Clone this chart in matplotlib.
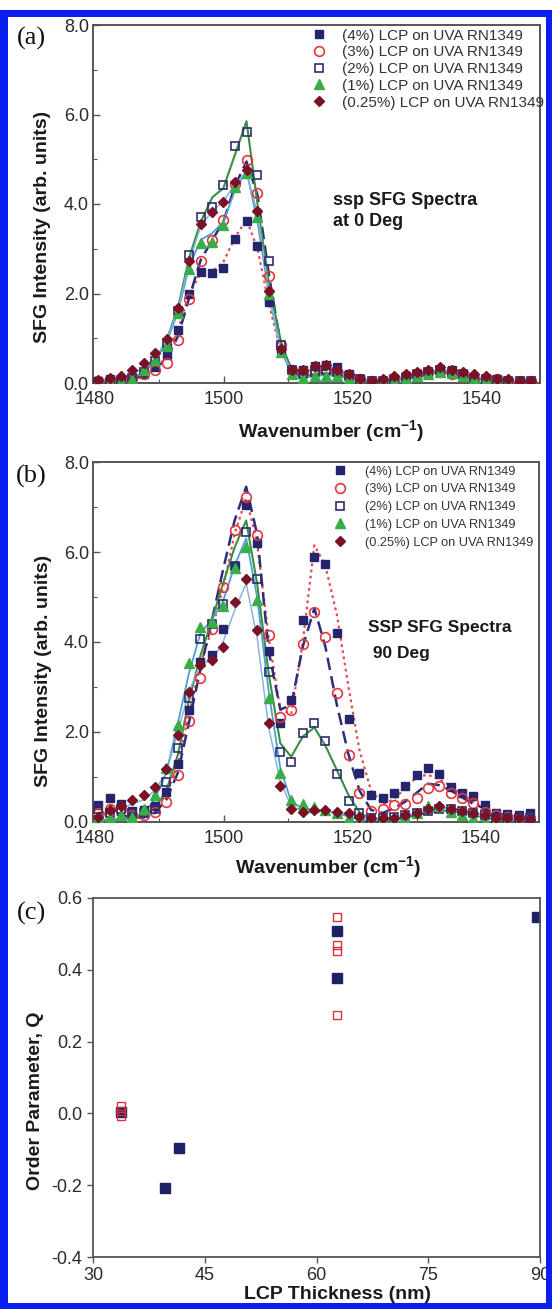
import numpy as np
import matplotlib
matplotlib.use('Agg')
from matplotlib import pyplot as plt
from matplotlib.patches import Rectangle
from matplotlib.ticker import MultipleLocator, FormatStrFormatter

plt.rcParams['font.family'] = ['Liberation Sans', 'DejaVu Sans']
plt.rcParams['axes.unicode_minus'] = False

# wavenumber grid (cm-1), shared by panels (a) and (b)
wn = [1480.5, 1482.3, 1484.0, 1485.8, 1487.6, 1489.3, 1491.1, 1492.9, 1494.6, 1496.4,
      1498.2, 1499.9, 1501.7, 1503.5, 1505.2, 1507.0, 1508.8, 1510.5, 1512.3, 1514.1,
      1515.8, 1517.6, 1519.4, 1521.1, 1522.9, 1524.7, 1526.4, 1528.2, 1530.0, 1531.7,
      1533.5, 1535.3, 1537.0, 1538.8, 1540.6, 1542.3, 1544.1, 1545.9, 1547.6]

labels = ['(4%) LCP on UVA RN1349', '(3%) LCP on UVA RN1349', '(2%) LCP on UVA RN1349',
          '(1%) LCP on UVA RN1349', '(0.25%) LCP on UVA RN1349']

# panel (a): ssp, 0 deg
a_4 = [0.05, 0.08, 0.05, 0.12, 0.2, 0.35, 0.63, 1.18, 2.0, 2.49, 2.46, 2.58, 3.21, 3.62, 3.07, 1.82, 0.74, 0.3, 0.28, 0.38,
       0.4, 0.35, 0.2, 0.1, 0.05, 0.05, 0.1, 0.15, 0.2, 0.25, 0.3, 0.28, 0.2, 0.12, 0.1, 0.08, 0.05, 0.05, 0.05]
a_3 = [0.05, 0.05, 0.08, 0.1, 0.2, 0.28, 0.45, 0.97, 1.88, 2.72, 3.2, 3.65, 4.45, 4.98, 4.24, 2.4, 0.86, 0.3, 0.25, 0.3,
       0.3, 0.25, 0.15, 0.08, 0.05, 0.05, 0.1, 0.15, 0.2, 0.25, 0.25, 0.2, 0.15, 0.1, 0.1, 0.08, 0.05, 0.05, 0.05]
a_2 = [0.03, 0.03, 0.05, 0.12, 0.25, 0.5, 0.9, 1.6, 2.85, 3.72, 3.93, 4.42, 5.3, 5.6, 4.65, 2.72, 0.85, 0.3, 0.2, 0.25,
       0.28, 0.25, 0.15, 0.08, 0.05, 0.05, 0.08, 0.12, 0.2, 0.25, 0.3, 0.25, 0.2, 0.12, 0.08, 0.06, 0.05, 0.05, 0.05]
a_1 = [0.02, 0.02, 0.05, 0.1, 0.3, 0.52, 0.82, 1.56, 2.54, 3.12, 3.15, 3.53, 4.37, 4.7, 3.72, 2.0, 0.7, 0.2, 0.12, 0.15,
       0.15, 0.15, 0.08, 0.03, 0.02, 0.02, 0.05, 0.1, 0.15, 0.2, 0.25, 0.22, 0.15, 0.1, 0.06, 0.04, 0.03, 0.02, 0.02]
a_025 = [0.07, 0.12, 0.15, 0.3, 0.45, 0.66, 0.98, 1.67, 2.73, 3.55, 3.83, 4.05, 4.5, 4.75, 3.85, 2.05, 0.75, 0.3, 0.28, 0.38,
         0.4, 0.3, 0.2, 0.1, 0.05, 0.1, 0.15, 0.2, 0.25, 0.3, 0.35, 0.3, 0.25, 0.2, 0.15, 0.1, 0.08, 0.05, 0.05]
# fitted curves (a)
af_4 = [0.05, 0.05, 0.05, 0.1, 0.15, 0.3, 0.6, 1.2, 2.0, 2.45, 2.5, 2.7, 3.25, 3.65, 3.0, 1.75, 0.72, 0.3, 0.25, 0.3,
        0.35, 0.32, 0.2, 0.1, 0.05, 0.05, 0.08, 0.12, 0.18, 0.22, 0.25, 0.22, 0.15, 0.1, 0.08, 0.05, 0.05, 0.05, 0.05]
af_3 = [0.05, 0.05, 0.05, 0.1, 0.15, 0.3, 0.55, 1.05, 1.9, 2.75, 3.2, 3.6, 4.4, 4.95, 4.2, 2.4, 0.85, 0.3, 0.25, 0.28,
        0.3, 0.28, 0.18, 0.1, 0.05, 0.05, 0.08, 0.12, 0.18, 0.22, 0.25, 0.22, 0.15, 0.1, 0.08, 0.05, 0.05, 0.05, 0.05]
af_2 = [0.02, 0.02, 0.05, 0.1, 0.25, 0.5, 0.95, 1.7, 2.8, 3.6, 4.15, 4.35, 5.1, 5.85, 4.0, 2.2, 0.95, 0.25, 0.15, 0.2,
        0.22, 0.2, 0.12, 0.05, 0.02, 0.02, 0.05, 0.1, 0.15, 0.2, 0.25, 0.22, 0.15, 0.1, 0.06, 0.04, 0.03, 0.03, 0.03]
af_1 = [0.02, 0.02, 0.05, 0.1, 0.25, 0.5, 0.9, 1.6, 2.6, 3.2, 3.35, 3.6, 4.3, 4.75, 3.6, 1.95, 0.75, 0.2, 0.12, 0.15,
        0.18, 0.15, 0.1, 0.05, 0.02, 0.02, 0.05, 0.1, 0.15, 0.22, 0.28, 0.25, 0.18, 0.12, 0.08, 0.05, 0.04, 0.03, 0.03]
af_025 = [0.05, 0.08, 0.12, 0.2, 0.35, 0.55, 0.95, 1.65, 2.7, 3.5, 3.85, 4.05, 4.45, 4.7, 3.8, 2.0, 0.75, 0.28, 0.25, 0.32,
          0.35, 0.3, 0.18, 0.1, 0.05, 0.06, 0.1, 0.15, 0.2, 0.25, 0.3, 0.27, 0.2, 0.15, 0.1, 0.08, 0.06, 0.05, 0.05]

# panel (b): ssp, 90 deg
b_4 = [0.38, 0.53, 0.41, 0.25, 0.26, 0.35, 0.67, 1.3, 2.5, 3.55, 3.72, 4.3, 5.7, 7.05, 6.19, 3.8, 2.21, 2.71, 4.5, 5.88,
       5.73, 4.2, 2.3, 1.1, 0.6, 0.53, 0.64, 0.79, 1.04, 1.21, 1.06, 0.77, 0.65, 0.58, 0.38, 0.19, 0.18, 0.15, 0.2]
b_3 = [0.19, 0.3, 0.28, 0.15, 0.15, 0.23, 0.45, 1.05, 2.25, 3.2, 4.3, 5.23, 6.49, 7.23, 6.38, 4.16, 2.34, 2.49, 3.96, 4.67,
       4.12, 2.86, 1.49, 0.64, 0.25, 0.3, 0.38, 0.4, 0.53, 0.75, 0.79, 0.64, 0.53, 0.43, 0.23, 0.16, 0.12, 0.1, 0.08]
b_2 = [0.3, 0.2, 0.3, 0.2, 0.2, 0.3, 0.9, 1.65, 2.75, 4.06, 4.4, 4.85, 5.7, 6.44, 5.41, 3.34, 1.56, 1.34, 1.97, 2.2,
       1.79, 1.07, 0.47, 0.19, 0.1, 0.1, 0.12, 0.15, 0.2, 0.25, 0.3, 0.3, 0.25, 0.2, 0.15, 0.1, 0.1, 0.08, 0.1]
b_1 = [0.12, 0.1, 0.15, 0.12, 0.3, 0.6, 1.2, 2.16, 3.54, 4.34, 4.45, 4.8, 5.65, 6.12, 4.93, 2.75, 1.08, 0.49, 0.4, 0.34,
       0.27, 0.19, 0.08, 0.02, 0.03, 0.06, 0.1, 0.12, 0.19, 0.36, 0.36, 0.23, 0.15, 0.1, 0.05, 0.03, 0.02, 0.02, 0.02]
b_025 = [0.12, 0.27, 0.36, 0.49, 0.61, 0.77, 1.17, 1.93, 2.9, 3.5, 3.6, 3.9, 4.9, 5.39, 4.27, 2.21, 0.8, 0.3, 0.23, 0.27,
         0.27, 0.23, 0.19, 0.12, 0.1, 0.08, 0.1, 0.15, 0.2, 0.3, 0.35, 0.3, 0.25, 0.2, 0.15, 0.1, 0.1, 0.08, 0.05]
# fitted curves (b)
bf_4 = [0.15, 0.15, 0.15, 0.15, 0.2, 0.3, 0.6, 1.3, 2.4, 3.5, 4.3, 5.2, 6.4, 7.2, 6.2, 4.1, 2.5, 2.4, 4.0, 6.15,
        5.7, 4.6, 3.0, 1.6, 0.7, 0.4, 0.5, 0.75, 1.0, 1.05, 0.95, 0.8, 0.6, 0.45, 0.3, 0.2, 0.15, 0.12, 0.1]
bf_3 = [0.2, 0.2, 0.15, 0.1, 0.1, 0.2, 0.5, 1.1, 2.2, 3.4, 4.5, 5.6, 6.7, 7.45, 6.4, 3.8, 2.5, 2.6, 3.9, 4.75,
        3.9, 2.6, 1.5, 0.7, 0.27, 0.2, 0.3, 0.45, 0.65, 0.85, 0.82, 0.7, 0.55, 0.4, 0.3, 0.2, 0.15, 0.12, 0.1]
bf_2 = [0.05, 0.05, 0.05, 0.08, 0.15, 0.3, 0.7, 1.5, 2.7, 3.7, 4.5, 5.3, 6.1, 6.7, 5.3, 3.3, 1.75, 1.45, 1.9, 2.1,
        1.7, 1.15, 0.6, 0.22, 0.05, 0.02, 0.05, 0.1, 0.15, 0.2, 0.25, 0.25, 0.2, 0.15, 0.1, 0.05, 0.05, 0.05, 0.05]
bf_1 = [0.05, 0.05, 0.08, 0.1, 0.2, 0.5, 1.1, 2.2, 3.3, 4.2, 4.5, 4.9, 5.7, 6.3, 5.0, 2.9, 1.2, 0.45, 0.3, 0.28,
        0.25, 0.2, 0.12, 0.05, 0.03, 0.03, 0.05, 0.1, 0.2, 0.3, 0.33, 0.3, 0.25, 0.2, 0.12, 0.08, 0.05, 0.03, 0.03]
bf_025 = [0.15, 0.25, 0.3, 0.4, 0.5, 0.7, 1.1, 2.0, 2.9, 3.5, 3.6, 4.0, 4.7, 5.3, 4.1, 2.1, 0.9, 0.35, 0.25, 0.25,
          0.25, 0.22, 0.18, 0.12, 0.1, 0.08, 0.1, 0.15, 0.2, 0.28, 0.32, 0.28, 0.22, 0.18, 0.12, 0.1, 0.08, 0.06, 0.05]

# panel (c): order parameter vs thickness
c_thick_fill = [33.7, 39.7, 41.6, 62.7, 62.7, 89.6]
c_q_fill = [0.005, -0.207, -0.096, 0.508, 0.376, 0.548]
c_thick_open = [33.7, 33.7, 33.7, 62.7, 62.7, 62.7, 62.7]
c_q_open = [0.022, 0.008, -0.008, 0.547, 0.468, 0.452, 0.275]

navy = '#25256e'
red = '#e0383e'
green = '#38ad48'
wine = '#7a1226'
marker_styles = [
    dict(marker='s', ms=6.2, mfc=navy, mec=navy, mew=1.0),
    dict(marker='o', ms=7.0, mfc='none', mec=red, mew=1.2),
    dict(marker='s', ms=5.6, mfc='none', mec='#2c2e6e', mew=1.2),
    dict(marker='^', ms=7.2, mfc=green, mec=green, mew=1.0),
    dict(marker='D', ms=5.6, mfc=wine, mec=wine, mew=1.0),
]
fit_styles = [
    dict(color='#e8464f', ls=(0, (1.2, 1.6)), lw=1.6),
    dict(color='#2b2f7a', ls=(0, (5, 2.5)), lw=1.8),
    dict(color='#3b8d42', ls='-', lw=1.5),
    dict(color='#4d9fd0', ls='-', lw=1.3),
    dict(color='#86b4dc', ls='-', lw=1.1),
]

W, H = 552, 1309
fig = plt.figure(figsize=(W / 100, H / 100), dpi=100)

def px_axes(l, t, r, b):
    return fig.add_axes([l / W, 1 - b / H, (r - l) / W, (b - t) / H])

tick_color = '#2a2a2a'
spine_color = '#555555'

def style_spectrum(ax):
    ax.set_xlim(1479.7, 1549.0)
    ax.set_ylim(0, 8.0)
    ax.xaxis.set_major_locator(MultipleLocator(20))
    ax.xaxis.set_minor_locator(MultipleLocator(10))
    ax.yaxis.set_major_locator(MultipleLocator(2))
    ax.yaxis.set_minor_locator(MultipleLocator(1))
    ax.yaxis.set_major_formatter(FormatStrFormatter('%.1f'))
    ax.tick_params(which='both', direction='in', colors=spine_color, labelcolor=tick_color, labelsize=13)
    ax.tick_params(which='major', length=5, width=1.0, pad=3)
    ax.tick_params(axis='x', which='major', pad=6)
    ax.tick_params(which='minor', length=3, width=0.8)
    for s in ax.spines.values():
        s.set_color(spine_color)
        s.set_linewidth(1.4)
    ax.set_ylabel('SFG Intensity (arb. units)', fontsize=14, fontweight='bold', color='#1a1a1a')
    ax.set_xlabel('Wavenumber (cm$^{\\mathregular{-1}}$)', fontsize=14, fontweight='bold', color='#1a1a1a')

def draw_spectrum(ax, data, fits, leg_fs, leg_anchor, leg_spacing, leg_pad):
    for f, st in zip(fits, fit_styles):
        ax.plot(wn, f, **st, zorder=2)
    handles = []
    for d, ms, lab in zip(data, marker_styles, labels):
        h, = ax.plot(wn, d, ls='none', label=lab, zorder=3, **ms)
        handles.append(h)
    ax.legend(handles=handles, loc='upper left', bbox_to_anchor=leg_anchor, frameon=False,
              fontsize=leg_fs, borderpad=0, borderaxespad=0, handlelength=1.0,
              handletextpad=leg_pad, labelspacing=leg_spacing, labelcolor='#333333')

# panel (a)
ax_a = px_axes(93, 25, 540, 383)
draw_spectrum(ax_a, [a_4, a_3, a_2, a_1, a_025], [af_4, af_3, af_2, af_1, af_025],
              11, (0.488, 0.99), 0.18, 1.05)
style_spectrum(ax_a)
ax_a.yaxis.set_label_coords(-0.094, 0.436)
ax_a.xaxis.set_label_coords(0.532, -0.1)
ax_a.text(0.537, 0.511, 'ssp SFG Spectra', transform=ax_a.transAxes, fontsize=13,
          fontweight='bold', va='center', ha='left', color='#1a1a1a')
ax_a.text(0.537, 0.45, 'at 0 Deg', transform=ax_a.transAxes, fontsize=13,
          fontweight='bold', va='center', ha='left', color='#1a1a1a')

# panel (b)
ax_b = px_axes(93, 462, 539, 822)
draw_spectrum(ax_b, [b_4, b_3, b_2, b_1, b_025], [bf_4, bf_3, bf_2, bf_1, bf_025],
              9.2, (0.539, 0.99), 0.45, 1.5)
style_spectrum(ax_b)
ax_b.yaxis.set_label_coords(-0.092, 0.42)
ax_b.xaxis.set_label_coords(0.528, -0.09)
ax_b.text(0.617, 0.539, 'SSP SFG Spectra', transform=ax_b.transAxes, fontsize=12.5,
          fontweight='bold', va='center', ha='left', color='#1a1a1a')
ax_b.text(0.617, 0.469, ' 90 Deg', transform=ax_b.transAxes, fontsize=12.5,
          fontweight='bold', va='center', ha='left', color='#1a1a1a')

# panel (c)
ax_c = px_axes(93, 898, 540, 1257)
ax_c.plot(c_thick_open, c_q_open, ls='none', marker='s', ms=5.6, mfc='none', mec='#d8323c', mew=1.0, zorder=3)
ax_c.plot(c_thick_fill, c_q_fill, ls='none', marker='s', ms=7.6, mfc='#1e2166', mec='#1e2166', zorder=2)
ax_c.set_xlim(30, 90)
ax_c.set_ylim(-0.4, 0.6)
ax_c.xaxis.set_major_locator(MultipleLocator(15))
ax_c.yaxis.set_major_locator(MultipleLocator(0.2))
ax_c.yaxis.set_major_formatter(FormatStrFormatter('%.1f'))
ax_c.tick_params(direction='out', length=4, width=1.0, colors=spine_color, labelcolor=tick_color, labelsize=13)
for s in ax_c.spines.values():
    s.set_color(spine_color)
    s.set_linewidth(1.3)
ax_c.set_xlabel('LCP Thickness (nm)', fontsize=14, fontweight='bold', color='#1a1a1a')
ax_c.set_ylabel('Order Parameter, Q', fontsize=14, fontweight='bold', color='#1a1a1a')
ax_c.xaxis.set_label_coords(0.546, -0.082)
ax_c.yaxis.set_label_coords(-0.11, 0.435)

# panel letters
for lab, y in [('(a)', 38), ('(b)', 476), ('(c)', 913)]:
    fig.text(31 / W, 1 - y / H, lab, fontsize=19, family=['Liberation Serif', 'DejaVu Serif'],
             ha='center', va='center', color='#111111')

# blue frame
blue = '#0a1ef0'
for x0, y0, w, h in [(0, 10, 8, H - 10), (W - 6, 10, 6, H - 10), (0, 10, W, 7), (0, H - 6, W, 6)]:
    fig.patches.append(Rectangle((x0 / W, 1 - (y0 + h) / H), w / W, h / H, transform=fig.transFigure,
                                 facecolor=blue, edgecolor='none', zorder=10))

fig.savefig('out.png', dpi=100)
